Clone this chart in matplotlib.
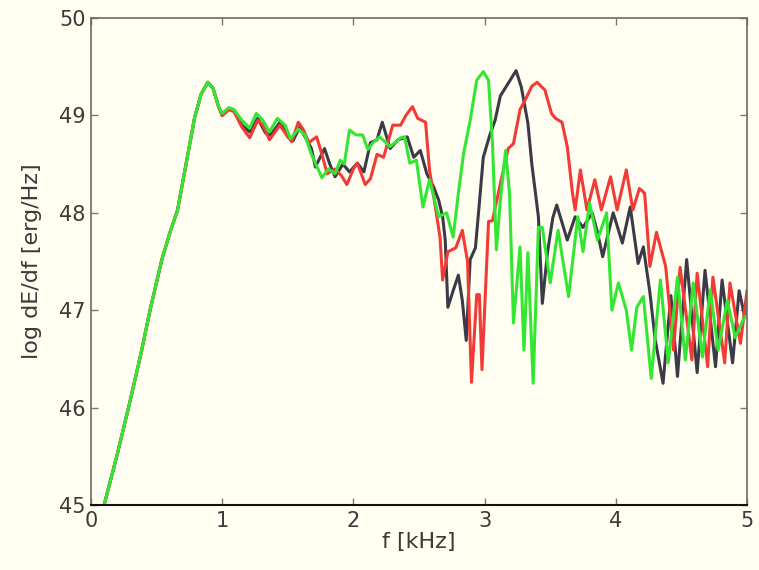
import matplotlib
matplotlib.use("Agg")
import matplotlib.pyplot as plt
import numpy as np

# Shared low-frequency rise (all three spectra coincide here)
f_rise = [0.10, 0.20, 0.30, 0.38, 0.45, 0.54, 0.60, 0.66, 0.73, 0.79, 0.84, 0.89, 0.93, 0.97]
e_rise = [45.0, 45.52, 46.08, 46.55, 47.0, 47.52, 47.79, 48.03, 48.54, 48.98, 49.22, 49.34, 49.28, 49.1]

# Black spectrum
f_black = [1.00, 1.05, 1.09, 1.15, 1.21, 1.27, 1.33, 1.37, 1.44, 1.50, 1.54, 1.59, 1.64, 1.68,
           1.71, 1.78, 1.82, 1.86, 1.92, 1.97, 2.03, 2.08, 2.13, 2.18, 2.22, 2.28, 2.34, 2.41,
           2.46, 2.51, 2.56, 2.61, 2.65, 2.68, 2.70, 2.72, 2.76, 2.80, 2.83, 2.86, 2.89, 2.93,
           2.96, 2.99, 3.04, 3.08, 3.12, 3.18, 3.24, 3.28, 3.33, 3.36, 3.41, 3.44, 3.48, 3.52,
           3.55, 3.59, 3.63, 3.69, 3.75, 3.82, 3.86, 3.90, 3.98, 4.05, 4.11, 4.17, 4.21, 4.26,
           4.30, 4.36, 4.42, 4.47, 4.54, 4.62, 4.68, 4.76, 4.81, 4.89, 4.94, 4.98, 5.00]
e_black = [49.0, 49.06, 49.05, 48.9, 48.83, 48.97, 48.82, 48.8, 48.93, 48.78, 48.74, 48.88, 48.76, 48.66,
           48.47, 48.66, 48.5, 48.37, 48.5, 48.42, 48.51, 48.42, 48.72, 48.75, 48.93, 48.66, 48.75, 48.78,
           48.57, 48.64, 48.4, 48.27, 48.13, 47.96, 47.72, 47.03, 47.2, 47.36, 47.1, 46.69, 47.52, 47.64,
           48.1, 48.57, 48.8, 48.95, 49.2, 49.33, 49.46, 49.29, 48.92, 48.5, 47.96, 47.07, 47.6, 47.95,
           48.08, 47.9, 47.72, 47.96, 47.85, 48.0, 47.8, 47.55, 48.0, 47.69, 48.06, 47.48, 47.65, 47.18,
           46.7, 46.25, 47.15, 46.32, 47.52, 46.36, 47.41, 46.42, 47.31, 46.46, 47.2, 46.95, 47.05]

# Red spectrum
f_red = [1.00, 1.05, 1.09, 1.15, 1.21, 1.27, 1.31, 1.36, 1.44, 1.49, 1.53, 1.58, 1.62, 1.66,
         1.72, 1.76, 1.80, 1.86, 1.91, 1.95, 2.00, 2.03, 2.09, 2.13, 2.18, 2.23, 2.30, 2.36,
         2.40, 2.45, 2.49, 2.55, 2.58, 2.62, 2.66, 2.68, 2.72, 2.78, 2.83, 2.87, 2.90, 2.94,
         2.96, 2.98, 3.03, 3.06, 3.12, 3.18, 3.22, 3.27, 3.31, 3.36, 3.40, 3.46, 3.51, 3.54,
         3.59, 3.63, 3.67, 3.69, 3.73, 3.78, 3.84, 3.89, 3.96, 4.01, 4.08, 4.13, 4.18, 4.22,
         4.26, 4.31, 4.38, 4.44, 4.49, 4.58, 4.62, 4.70, 4.74, 4.83, 4.87, 4.95, 5.00]
e_red = [49.0, 49.06, 49.04, 48.88, 48.77, 48.95, 48.9, 48.75, 48.9, 48.8, 48.73, 48.93, 48.85, 48.72,
         48.78, 48.6, 48.4, 48.45, 48.38, 48.29, 48.45, 48.51, 48.29, 48.35, 48.6, 48.57, 48.9, 48.9,
         49.0, 49.09, 48.97, 48.93, 48.44, 48.1, 47.75, 47.31, 47.6, 47.64, 47.82, 47.5, 46.26, 47.16,
         47.16, 46.39, 47.91, 47.92, 48.3, 48.66, 48.71, 49.06, 49.16, 49.3, 49.34, 49.26, 49.02, 48.97,
         48.93, 48.68, 48.2, 48.03, 48.44, 48.03, 48.34, 48.03, 48.37, 48.03, 48.44, 48.03, 48.25, 48.2,
         47.45, 47.8, 47.45, 46.59, 47.44, 46.49, 47.38, 46.42, 47.34, 46.46, 47.28, 46.66, 47.2]

# Green spectrum
f_green = [1.00, 1.05, 1.09, 1.15, 1.21, 1.26, 1.31, 1.36, 1.42, 1.48, 1.52, 1.58, 1.63, 1.68,
           1.72, 1.76, 1.81, 1.86, 1.90, 1.93, 1.97, 2.02, 2.07, 2.11, 2.15, 2.20, 2.28, 2.36,
           2.39, 2.43, 2.48, 2.53, 2.58, 2.65, 2.71, 2.76, 2.80, 2.84, 2.89, 2.94, 2.99, 3.03,
           3.06, 3.09, 3.12, 3.16, 3.19, 3.22, 3.27, 3.30, 3.33, 3.37, 3.41, 3.44, 3.50, 3.56,
           3.64, 3.71, 3.75, 3.80, 3.86, 3.93, 3.97, 4.02, 4.08, 4.12, 4.16, 4.21, 4.27, 4.34,
           4.40, 4.47, 4.53, 4.59, 4.66, 4.72, 4.78, 4.85, 4.91, 4.97, 5.00]
e_green = [49.02, 49.08, 49.06, 48.95, 48.87, 49.02, 48.95, 48.83, 48.97, 48.9, 48.76, 48.86, 48.8, 48.6,
           48.48, 48.36, 48.45, 48.4, 48.54, 48.5, 48.85, 48.8, 48.8, 48.65, 48.72, 48.78, 48.68, 48.77,
           48.78, 48.51, 48.54, 48.06, 48.34, 47.96, 48.0, 47.75, 48.2, 48.61, 48.95, 49.36, 49.45, 49.36,
           48.71, 47.62, 48.13, 48.64, 48.2, 46.87, 47.65, 46.59, 47.59, 46.25, 47.85, 47.85, 47.28, 47.82,
           47.14, 47.96, 47.6, 48.1, 47.72, 48.0, 47.0, 47.28, 47.0, 46.59, 47.03, 47.14, 46.3, 47.31,
           46.46, 47.34, 46.49, 47.28, 46.52, 47.21, 46.59, 47.1, 46.72, 46.9, 46.95]

x_ticks = [0, 1, 2, 3, 4, 5]
y_ticks = [45, 46, 47, 48, 49, 50]

bg = "#fffef0"
plt.rcParams["font.family"] = ["DejaVu Sans"]

fig = plt.figure(figsize=(7.59, 5.70), dpi=100, facecolor=bg)
ax = fig.add_axes([0.1199, 0.1140, 0.8643, 0.8544], facecolor=bg)

series = [
    (f_black, e_black, "#3b3b48"),
    (f_red, e_red, "#f23a36"),
    (f_green, e_green, "#33e633"),
]
for f, e, c in series:
    ax.plot(f_rise + f, e_rise + e, color=c, lw=2.2, solid_joinstyle="round")

ax.set_xlim(0, 5)
ax.set_ylim(45, 50)
ax.set_xticks(x_ticks)
ax.set_yticks(y_ticks)
ax.tick_params(direction="in", length=5, width=1, colors="#777777",
               labelcolor="#3a3a3a", labelsize=15, top=True, right=True, pad=4)
for side in ["left", "top", "right"]:
    ax.spines[side].set_color("#6a6a6a")
    ax.spines[side].set_linewidth(1.2)
ax.spines["bottom"].set_color("#111111")
ax.spines["bottom"].set_linewidth(1.5)

ax.set_xlabel("f [kHz]", fontsize=16, color="#3a3a3a", labelpad=1)
ax.set_ylabel("log dE/df [erg/Hz]", fontsize=16, color="#3a3a3a", labelpad=12)

fig.savefig("out.png", dpi=100, facecolor=bg)
